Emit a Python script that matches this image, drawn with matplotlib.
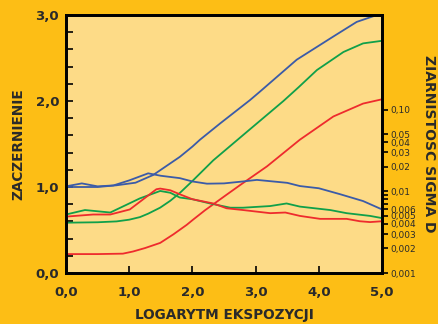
import matplotlib
matplotlib.use("Agg")
import matplotlib.pyplot as plt
from matplotlib.ticker import FixedLocator, NullFormatter

# krzywe charakterystyczne (zaczernienie)
blue_x = [0, 0.5, 0.8, 1.1, 1.38, 1.5, 1.8, 2.0, 2.12, 2.44, 2.91, 3.07, 3.65, 4.23, 4.6, 4.92, 5.0]
blue_y = [1.0, 1.0, 1.02, 1.05, 1.14, 1.2, 1.35, 1.47, 1.55, 1.74, 2.01, 2.11, 2.48, 2.75, 2.92, 3.0, 3.0]

green_x = [0, 0.5, 0.8, 1.0, 1.17, 1.3, 1.49, 1.65, 1.8, 2.0, 2.33, 2.86, 3.44, 3.68, 3.97, 4.39, 4.7, 5.0]
green_y = [0.585, 0.59, 0.6, 0.62, 0.65, 0.69, 0.76, 0.84, 0.93, 1.07, 1.31, 1.64, 2.0, 2.16, 2.36, 2.57, 2.67, 2.7]

red_x = [0, 0.5, 0.9, 1.06, 1.25, 1.49, 1.7, 1.91, 2.01, 2.2, 2.54, 2.75, 3.18, 3.7, 4.23, 4.7, 5.0]
red_y = [0.22, 0.22, 0.225, 0.25, 0.29, 0.35, 0.45, 0.56, 0.62, 0.73, 0.91, 1.02, 1.24, 1.55, 1.82, 1.97, 2.02]

# ziarnistosc sigma D
blue_gx = [0, 0.25, 0.5, 0.75, 1.0, 1.3, 1.5, 1.8, 2.0, 2.23, 2.5, 2.8, 3.02, 3.5, 3.7, 4.0, 4.34, 4.7, 5.0]
blue_gs = [0.0115, 0.0125, 0.0115, 0.0118, 0.0136, 0.0166, 0.0155, 0.0145, 0.0132, 0.0124, 0.0125,
           0.0132, 0.0138, 0.0127, 0.0116, 0.0109, 0.0092, 0.0076, 0.0060]

green_gx = [0, 0.3, 0.7, 1.17, 1.49, 1.65, 1.8, 2.0, 2.28, 2.6, 2.8, 3.23, 3.49, 3.7, 4.18, 4.44, 4.81, 5.0]
green_gs = [0.0052, 0.0059, 0.0055, 0.0082, 0.0101, 0.0096, 0.0084, 0.0080, 0.0071, 0.0063, 0.0063,
            0.0066, 0.0071, 0.0065, 0.0059, 0.0054, 0.0050, 0.0047]

red_gx = [0, 0.43, 0.7, 1.01, 1.43, 1.49, 1.65, 1.8, 2.0, 2.33, 2.54, 2.8, 3.23, 3.47, 3.7, 4.02, 4.44, 4.65, 4.81, 5.0]
red_gs = [0.0049, 0.0052, 0.0052, 0.0060, 0.0106, 0.0108, 0.0103, 0.0092, 0.0080, 0.0071, 0.0062,
          0.0059, 0.0054, 0.0055, 0.0050, 0.0046, 0.0046, 0.0043, 0.0042, 0.0043]

x_ticks = [0, 1, 2, 3, 4, 5]
x_labels = ["0,0", "1,0", "2,0", "3,0", "4,0", "5,0"]
y_ticks = [0, 1, 2, 3]
y_labels = ["0,0", "1,0", "2,0", "3,0"]
sig_ticks = [0.1, 0.05, 0.04, 0.03, 0.02, 0.01, 0.006, 0.005, 0.004, 0.003, 0.002, 0.001]
sig_labels = ["0,10", "0,05", "0,04", "0,03", "0,02", "0,01", "0,006", "0,005", "0,004", "0,003", "0,002", "0,001"]
sig_minor = [0.009, 0.008, 0.007]

BG = "#FDBE15"
FACE = "#FDDB87"
TXT = "#2A2A2A"
BLUE = "#3B5BA8"
GREEN = "#10A04A"
RED = "#EE2B2D"

plt.rcParams["font.family"] = ["DejaVu Sans"]

fig = plt.figure(figsize=(4.38, 3.24), dpi=100, facecolor=BG)
ax = fig.add_axes([0.1507, 0.1574, 0.7215, 0.7963])
ax.set_facecolor(FACE)

lw = 1.3
ax.plot(blue_x, blue_y, color=BLUE, lw=lw)
ax.plot(green_x, green_y, color=GREEN, lw=lw)
ax.plot(red_x, red_y, color=RED, lw=lw)

ax.set_xlim(0, 5)
ax.set_ylim(0, 3)
ax.set_xticks(x_ticks)
ax.set_xticklabels(x_labels, fontsize=9.5, fontweight="bold", color=TXT)
ax.set_yticks(y_ticks)
ax.set_yticklabels(y_labels, fontsize=9.5, fontweight="bold", color=TXT)
ax.yaxis.set_minor_locator(FixedLocator([0.2, 0.4, 0.6, 0.8, 1.2, 1.4, 1.6, 1.8, 2.2, 2.4, 2.6, 2.8]))
ax.tick_params(axis="both", which="both", direction="in", length=5, width=1.2, color="black")
ax.tick_params(axis="x", pad=9)
ax.tick_params(axis="y", pad=5)
for s in ax.spines.values():
    s.set_linewidth(2)
    s.set_color("black")

ax.set_xlabel("LOGARYTM EKSPOZYCJI", fontsize=9.8, fontweight="bold", color=TXT, labelpad=7)
ax.set_ylabel("ZACZERNIENIE", fontsize=9.8, fontweight="bold", color=TXT, labelpad=7)

# prawa os - skala logarytmiczna
ax2 = ax.twinx()
ax2.set_yscale("log")
ax2.plot(blue_gx, blue_gs, color=BLUE, lw=lw)
ax2.plot(green_gx, green_gs, color=GREEN, lw=lw)
ax2.plot(red_gx, red_gs, color=RED, lw=lw)
ax2.set_ylim(0.001, 1.44)
ax2.yaxis.set_major_locator(FixedLocator(sig_ticks))
ax2.set_yticklabels(sig_labels, fontsize=6.5, color=TXT)
ax2.yaxis.set_minor_locator(FixedLocator(sig_minor))
ax2.yaxis.set_minor_formatter(NullFormatter())
ax2.tick_params(axis="y", which="both", direction="out", length=4, width=1.2, pad=2)
for s in ax2.spines.values():
    s.set_linewidth(2)
ax2.set_ylabel("ZIARNISTOSC SIGMA D", fontsize=10, fontweight="bold", color=TXT,
               rotation=270, labelpad=14)

fig.savefig("out.png", dpi=100, facecolor=BG)
